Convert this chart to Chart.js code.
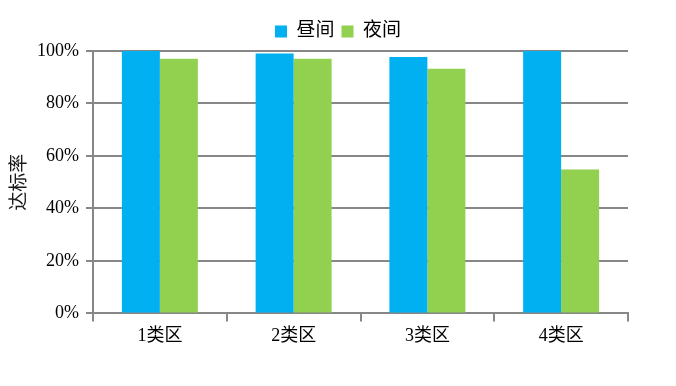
<!DOCTYPE html>
<html>
<head>
<meta charset="utf-8">
<script src="https://cdn.jsdelivr.net/npm/chart.js@4/dist/chart.umd.min.js"></script>
<style>
  html, body { margin: 0; padding: 0; background: #fff; }
  #wrap { width: 676px; height: 386px; }
</style>
</head>
<body>
<div id="wrap"><canvas id="chart"></canvas></div>
<script>
// 数据
const categories = ['1类区', '2类区', '3类区', '4类区'];
const seriesNames = ['昼间', '夜间'];
const dayValues = [100, 99, 97.7, 100];
const nightValues = [97, 97, 93.2, 54.8];
const yTicks = [0, 20, 40, 60, 80, 100];
const yTitle = '达标率';

const FONT = "'Liberation Serif', 'Noto Sans CJK SC', serif";
const GRAY = '#878787';

// 图例整体居中于画布
const legendShift = {
    id: 'legendShift',
    afterLayout(chart) {
        const lg = chart.legend;
        if (!lg) return;
        const dx = chart.width / 2 - (lg.left + lg.right) / 2;
        lg.left += dx;
        lg.right += dx;
    }
};

new Chart(document.getElementById('chart'), {
    type: 'bar',
    data: {
        labels: categories,
        datasets: [
            { label: seriesNames[0], data: dayValues, backgroundColor: '#00B0F0' },
            { label: seriesNames[1], data: nightValues, backgroundColor: '#92D050' }
        ]
    },
    plugins: [legendShift],
    options: {
        responsive: true,
        maintainAspectRatio: false,
        animation: false,
        datasets: { bar: { categoryPercentage: 0.568, barPercentage: 1.0, borderWidth: 0 } },
        layout: { padding: { left: 9, right: 48, top: 15, bottom: 35 } },
        plugins: {
            legend: {
                position: 'top',
                labels: {
                    boxWidth: 12,
                    boxHeight: 12,
                    padding: 7,
                    color: '#000',
                    font: { family: FONT, size: 19 }
                }
            },
            tooltip: { enabled: false }
        },
        scales: {
            x: {
                offset: true,
                grid: { drawOnChartArea: false, drawTicks: true, tickLength: 8, color: GRAY, lineWidth: 2, offset: true },
                border: { color: GRAY, width: 2 },
                ticks: { color: '#000', padding: 4, font: { family: FONT, size: 18 } }
            },
            y: {
                min: 0,
                max: 100,
                afterBuildTicks: s => { s.ticks = yTicks.map(v => ({ value: v })); },
                afterFit: s => { s.width = 84; },
                grid: { color: GRAY, lineWidth: 2, tickLength: 7 },
                border: { color: GRAY, width: 2 },
                ticks: {
                    color: '#000',
                    padding: 7,
                    font: { family: FONT, size: 18 },
                    callback: v => v + '%'
                },
                title: {
                    display: true,
                    text: yTitle,
                    color: '#1a1a1a',
                    padding: { top: 0, bottom: 0 },
                    font: { family: FONT, size: 19 }
                }
            }
        }
    }
});
</script>
</body>
</html>
